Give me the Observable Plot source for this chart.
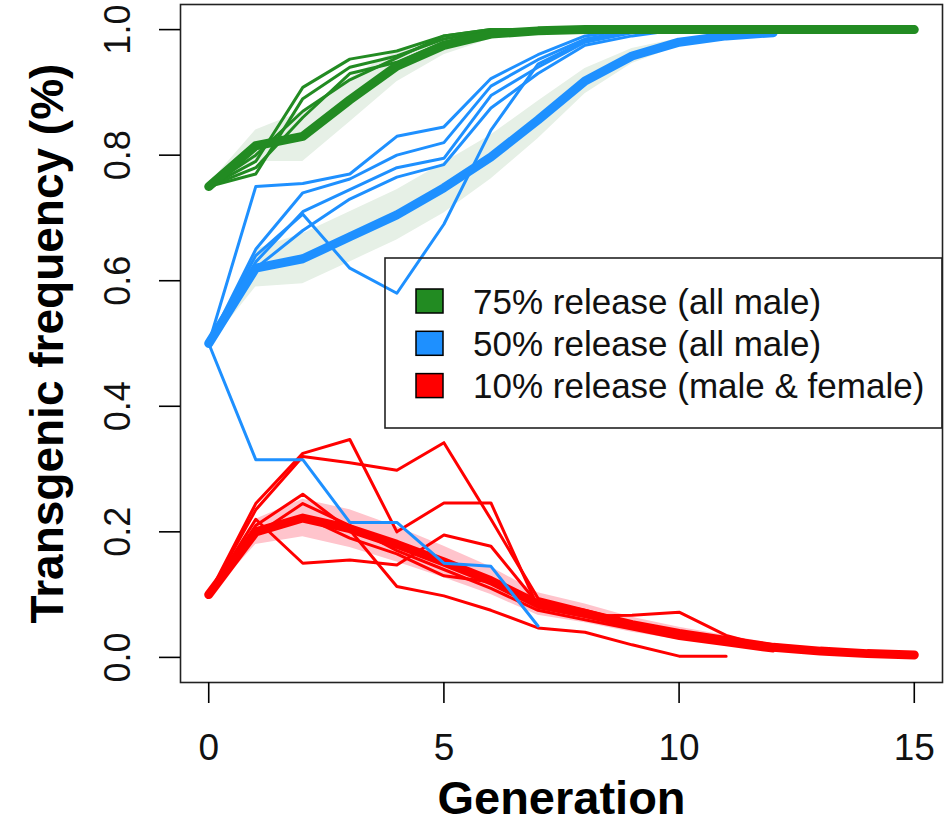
<!DOCTYPE html>
<html>
<head>
<meta charset="utf-8">
<script src="https://cdn.jsdelivr.net/npm/d3@7"></script>
<script src="https://cdn.jsdelivr.net/npm/@observablehq/plot@0.6"></script>
<style>
  html, body { margin: 0; padding: 0; background: #fff; }
  #chart svg { display: block; font-family: "Liberation Sans", Arial, sans-serif; }
</style>
</head>
<body>
<div id="chart"></div>
<script>
// ---- axis ticks ----
const xTicks = [0, 5, 10, 15];
const yTicks = [0, 0.2, 0.4, 0.6, 0.8, 1.0];
const xTitle = "Generation";
const yTitle = "Transgenic frequency (%)";

// ---- legend ----
const seriesNames = ["75% release (all male)", "50% release (all male)", "10% release (male & female)"];
const seriesColors = ["#228B22", "#1E90FF", "#FF0000"];
const bandColors = ["#e6f0e6", "#e6f0e6", "#ffc4cc"];

// ---- 75% release: model mean, band half-width, replicate runs (index = generation) ----
const greenMean = [0.75, 0.815, 0.83, 0.888, 0.942, 0.975, 0.993, 0.998, 1, 1, 1, 1, 1, 1, 1, 1];
const greenBand = [0.004, 0.025, 0.04, 0.035, 0.025, 0.015, 0.008, 0.004, 0.002, 0, 0, 0, 0, 0, 0, 0];
const greenRuns = [
  [0.75, 0.79, 0.908, 0.953, 0.966, 0.99, 1.0, 1.0],
  [0.75, 0.77, 0.89, 0.94, 0.958, 0.985, 0.998, 1.0],
  [0.75, 0.80, 0.87, 0.92, 0.955, 0.99, 1.0, 1.0],
  [0.75, 0.78, 0.86, 0.93, 0.948, 0.98, 0.995, 1.0]
];

// ---- 50% release ----
const blueMean = [0.5, 0.62, 0.635, 0.67, 0.705, 0.748, 0.797, 0.856, 0.918, 0.958, 0.98, 0.99, 0.995];
const blueBand = [0.004, 0.03, 0.04, 0.04, 0.04, 0.04, 0.035, 0.03, 0.02, 0.012, 0.006, 0.003, 0.002];
const blueRuns = [
  [0.5, 0.315, 0.315, 0.215, 0.215, 0.15, 0.145, 0.05],
  [0.5, 0.75, 0.755, 0.77, 0.83, 0.845, 0.922, 0.96, 0.99, 1.0],
  [0.5, 0.64, 0.706, 0.62, 0.58, 0.69, 0.84, 0.945, 0.982, 0.996, 1.0],
  [0.5, 0.65, 0.74, 0.762, 0.80, 0.82, 0.91, 0.952, 0.985, 0.998, 1.0],
  [0.5, 0.63, 0.71, 0.745, 0.78, 0.795, 0.895, 0.94, 0.98, 0.995, 1.0],
  [0.5, 0.62, 0.68, 0.73, 0.765, 0.785, 0.875, 0.93, 0.975, 0.99, 1.0]
];

// ---- 10% release ----
const redMean = [0.1, 0.2, 0.222, 0.205, 0.18, 0.152, 0.122, 0.085, 0.07, 0.052, 0.038, 0.027, 0.016, 0.01, 0.006, 0.004];
const redBand = [0.004, 0.02, 0.03, 0.03, 0.028, 0.025, 0.022, 0.018, 0.015, 0.012, 0.01, 0.008, 0.006, 0.005, 0.004, 0.003];
const redRuns = [
  [0.1, 0.245, 0.325, 0.347, 0.2, 0.246, 0.246, 0.08, 0.066, 0.067, 0.072, 0.035, 0.015, 0.008, 0.004],
  [0.1, 0.235, 0.32, 0.31, 0.298, 0.342, 0.22, 0.094, 0.075, 0.055, 0.04, 0.028, 0.015, 0.01, 0.005],
  [0.1, 0.21, 0.26, 0.203, 0.113, 0.098, 0.075, 0.047, 0.04, 0.02, 0.002, 0.002],
  [0.1, 0.22, 0.15, 0.155, 0.147, 0.195, 0.177, 0.085, 0.07, 0.05, 0.035, 0.025, 0.012, 0.008],
  [0.1, 0.195, 0.245, 0.21, 0.17, 0.14, 0.11, 0.075, 0.06, 0.045, 0.03, 0.02, 0.01],
  [0.1, 0.20, 0.225, 0.19, 0.165, 0.13, 0.12, 0.08, 0.065, 0.05, 0.04, 0.03, 0.02, 0.01, 0.005, 0.004]
];

// ---- tables built from the arrays ----
const toRuns = (runs, key) => runs.flatMap((r, i) => r.map((v, g) => ({g, v, run: key + i})));
const toLine = (arr) => arr.map((v, g) => ({g, v}));
const toBand = (mean, half) => mean.map((v, g) => ({g, lo: v - half[g], hi: Math.min(1.0, v + half[g])}));

const groups = [
  {mean: redMean, band: redBand, runs: redRuns, color: seriesColors[2], bandColor: bandColors[2], key: "r"},
  {mean: blueMean, band: blueBand, runs: blueRuns, color: seriesColors[1], bandColor: bandColors[1], key: "b"},
  {mean: greenMean, band: greenBand, runs: greenRuns, color: seriesColors[0], bandColor: bandColors[0], key: "g"}
];

const dataMarks = groups.flatMap(gr => [
  Plot.areaY(toBand(gr.mean, gr.band), {x: "g", y1: "lo", y2: "hi", fill: gr.bandColor}),
  Plot.line(toRuns(gr.runs, gr.key), {x: "g", y: "v", z: "run", stroke: gr.color, strokeWidth: 3, strokeLinejoin: "round"}),
  Plot.line(toLine(gr.mean), {x: "g", y: "v", stroke: gr.color, strokeWidth: 9, strokeLinecap: "round", strokeLinejoin: "round"})
]);

const W = 947, H = 823;
const plot = Plot.plot({
  width: W,
  height: H,
  marginLeft: 180,
  marginRight: 5,
  marginTop: 4,
  marginBottom: 141,
  style: {background: "#fff", color: "#000", fontFamily: "'Liberation Sans', Arial, sans-serif"},
  x: {domain: [-0.6, 15.6]},
  y: {domain: [-0.04, 1.04]},
  marks: [
    ...dataMarks,
    Plot.frame({stroke: "#222", strokeWidth: 1.6}),
    Plot.axisX({ticks: xTicks, tickSize: 21, tickFormat: () => "", label: null, strokeWidth: 1.6}),
    Plot.axisY({ticks: yTicks, tickSize: 21, tickFormat: () => "", label: null, strokeWidth: 1.6}),
    Plot.text(xTicks, {x: d => d, text: d => String(d), frameAnchor: "bottom", dy: 77, lineAnchor: "bottom", textAnchor: "middle", fontSize: 37, fill: "#111"}),
    Plot.text(yTicks, {y: d => d, text: d => d.toFixed(1), frameAnchor: "left", dx: -51, rotate: -90, lineAnchor: "bottom", textAnchor: "middle", fontSize: 36, fill: "#111"}),
    Plot.text([xTitle], {text: d => d, frameAnchor: "bottom", dy: 131, lineAnchor: "bottom", textAnchor: "middle", fontSize: 47, fontWeight: "bold", fill: "#000"}),
    Plot.text([yTitle], {text: d => d, frameAnchor: "left", dx: -118, rotate: -90, lineAnchor: "bottom", textAnchor: "middle", fontSize: 46, fontWeight: "bold", fill: "#000"})
  ]
});

// ---- legend drawn into the same SVG (transparent box, as in the original) ----
const svg = d3.select(plot);
const lg = svg.append("g").attr("class", "legend");
lg.append("rect").attr("x", 385).attr("y", 258).attr("width", 557).attr("height", 170)
  .attr("fill", "none").attr("stroke", "#222").attr("stroke-width", 1.6);
seriesNames.forEach((name, i) => {
  const cy = 301 + i * 42.3;
  lg.append("rect").attr("x", 416).attr("y", cy - 12).attr("width", 27).attr("height", 24)
    .attr("fill", seriesColors[i]).attr("stroke", "#000").attr("stroke-width", 1.5);
  lg.append("text").attr("x", 473).attr("y", cy + 12.5).attr("text-anchor", "start")
    .attr("font-size", 35).attr("fill", "#111").text(name);
});

document.getElementById("chart").appendChild(plot);
</script>
</body>
</html>
